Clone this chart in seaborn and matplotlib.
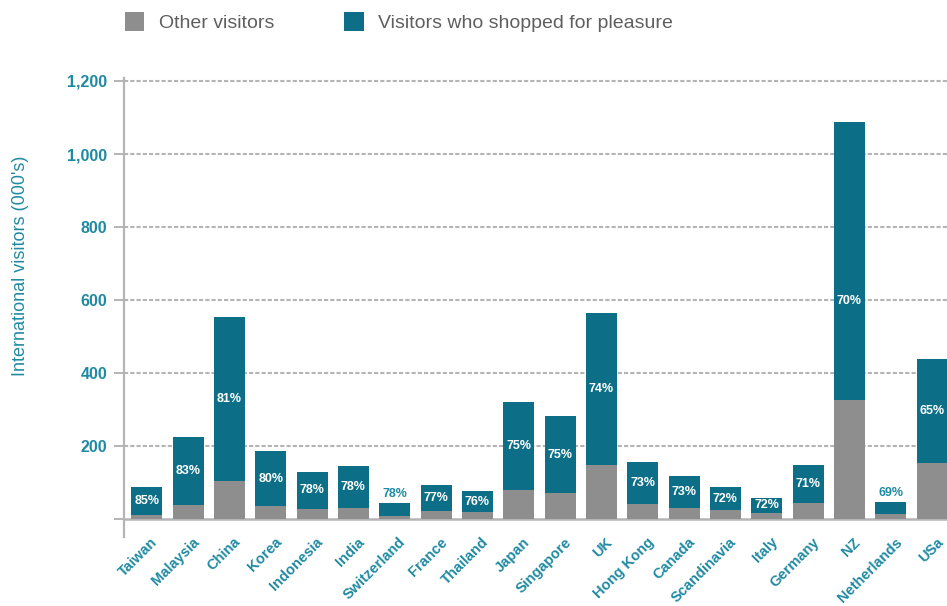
import matplotlib
matplotlib.use("Agg")
import matplotlib.pyplot as plt
from matplotlib.patches import Patch
from matplotlib.transforms import ScaledTranslation
import seaborn as sns
import pandas as pd

# Visitors by origin country (thousands)
countries = ["Taiwan", "Malaysia", "China", "Korea", "Indonesia", "India",
             "Switzerland", "France", "Thailand", "Japan", "Singapore", "UK",
             "Hong Kong", "Canada", "Scandinavia", "Italy", "Germany", "NZ",
             "Netherlands", "USa"]
total_visitors = [88, 226, 554, 186, 131, 146, 46, 95, 78, 320, 283, 565,
                  157, 119, 89, 60, 150, 1087, 49, 438]
other_visitors = [13, 40, 105, 38, 29, 32, 10, 22, 19, 80, 71, 148,
                  43, 32, 25, 17, 44, 328, 15, 155]
shopper_share = [85, 83, 81, 80, 78, 78, 78, 77, 76, 75, 75, 74,
                 73, 73, 72, 72, 71, 70, 69, 65]
y_ticks = [0, 200, 400, 600, 800, 1000, 1200]
y_tick_labels = ["", "200", "400", "600", "800", "1,000", "1,200"]

TEAL = "#0d6f87"
GREY = "#8e8e8e"
LABEL_TEAL = "#1f8aa2"
GRID = "#b4b4b4"

df = pd.DataFrame({"country": countries, "total": total_visitors,
                   "other": other_visitors, "share": shopper_share})

sns.set_theme(style="white")
plt.rcParams["font.family"] = ["Liberation Sans", "DejaVu Sans"]

fig = plt.figure(figsize=(9.47, 6.06), dpi=100)
ax = fig.add_axes([0.1309, 0.1139, 0.8691, 0.7574])

bar_w = 0.75
sns.barplot(data=df, x="country", y="total", color=TEAL, width=bar_w,
            saturation=1, linewidth=0, ax=ax, zorder=3)
sns.barplot(data=df, x="country", y="other", color=GREY, width=bar_w,
            saturation=1, linewidth=0, ax=ax, zorder=4)

ax.set_ylim(-48, 1208)
ax.set_xlim(-0.55, len(countries) - 1 + 0.36)

# dashed gridlines and solid zero line
for v in y_ticks[1:]:
    ax.axhline(v, color=GRID, lw=1.5, ls=(0, (2, 1)), zorder=1)
ax.axhline(0, color=GRID, lw=1.8, zorder=2)

for side in ["top", "right", "bottom"]:
    ax.spines[side].set_visible(False)
ax.spines["left"].set_color(GRID)
ax.spines["left"].set_linewidth(1.6)

ax.set_yticks(y_ticks)
ax.set_yticklabels(y_tick_labels)
ax.tick_params(axis="y", which="both", left=True, length=7, width=1.4,
               color=GRID, pad=5, labelsize=11.5, labelcolor=LABEL_TEAL)
for t in ax.get_yticklabels():
    t.set_fontweight("bold")

ax.set_xlabel("")
ax.set_ylabel("International visitors (000's)", color=LABEL_TEAL,
              fontsize=13)
ax.yaxis.set_label_coords(-0.115, 0.59)

ax.tick_params(axis="x", length=0, pad=0, labelsize=10.5,
               labelcolor=LABEL_TEAL)
ax.set_xticks(range(len(countries)))
ax.set_xticklabels(countries, rotation=45, ha="right",
                   rotation_mode="anchor", fontweight="bold")
for t in ax.get_xticklabels():
    t.set_transform(t.get_transform() + ScaledTranslation(0.04, 0.02, fig.dpi_scale_trans))

# share labels on the shoppers segment
for i, (tot, oth, pct) in enumerate(zip(total_visitors, other_visitors, shopper_share)):
    seg = tot - oth
    if seg < 40:
        ax.text(i, tot + 8, f"{pct}%", ha="center", va="bottom",
                color=LABEL_TEAL, fontsize=9, fontweight="bold", zorder=5)
    else:
        y = min((tot + oth) / 2, oth + 270)
        ax.text(i, y, f"{pct}%", ha="center", va="center", color="white",
                fontsize=9, fontweight="bold", zorder=5)

handles = [Patch(facecolor=GREY, edgecolor="none", label="Other visitors"),
           Patch(facecolor=TEAL, edgecolor="none",
                 label="Visitors who shopped for pleasure")]
fig.legend(handles=handles, loc="upper left",
           bbox_to_anchor=(125 / 947, 1 - 12 / 606),
           ncol=2, frameon=False, fontsize=14, handlelength=1.0,
           handleheight=1.1, handletextpad=0.75, columnspacing=3.6,
           borderpad=0, borderaxespad=0, labelcolor="#5f5f5f")

fig.savefig("out.png", dpi=100)
